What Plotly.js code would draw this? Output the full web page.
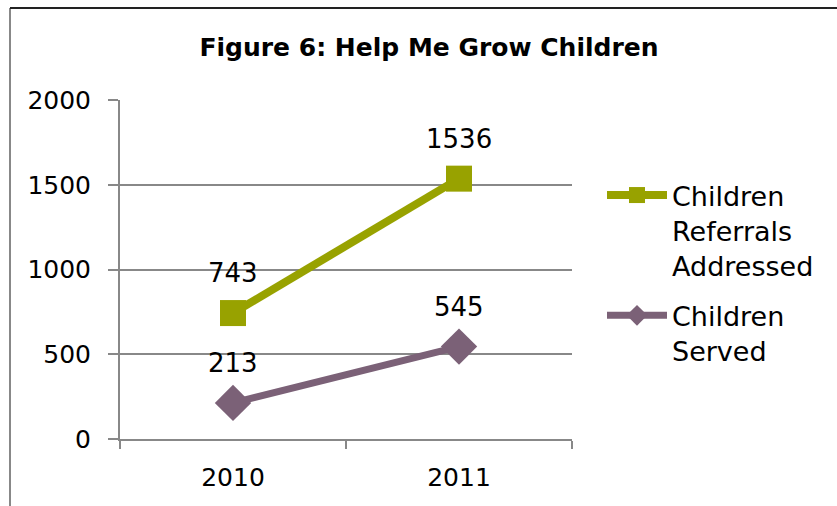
<!DOCTYPE html>
<html><head><meta charset="utf-8">
<script src="https://cdn.plot.ly/plotly-3.0.1.min.js"></script>
<style>html,body{margin:0;padding:0;background:#fff}#chart{width:837px;height:506px}</style>
</head><body><div id="chart"></div>
<script>
const years = ['2010', '2011'];
const referrals = [743, 1536];
const served = [213, 545];
const yTicks = [0, 500, 1000, 1500, 2000];

const FONT = 'DejaVu Sans, Liberation Sans, sans-serif';
const green = '#98A200';
const purple = '#7B6177';

const traces = [
  {
    x: years, y: referrals, name: 'Children<br>Referrals<br>Addressed', legendgroup: 'a',
    type: 'scatter', mode: 'lines+markers',
    line: {color: green, width: 8},
    marker: {symbol: 'square', size: 26, color: green}
  },
  {
    x: years, y: served, name: 'Children<br>Served', legendgroup: 'b',
    type: 'scatter', mode: 'lines+markers',
    line: {color: purple, width: 7},
    marker: {symbol: 'diamond', size: 28, color: purple}
  }
];

const labelFont = {family: FONT, size: 26, color: '#000'};
const annotations = [];
[referrals, served].forEach(series => {
  series.forEach((v, i) => {
    annotations.push({x: i, y: v, xref: 'x', yref: 'y', text: String(v), showarrow: false,
      yanchor: 'bottom', yshift: 23, font: labelFont});
  });
});

const L = 120, R = 572, T = 100, B = 439, W = 837, H = 506;
const px = v => (v - L) / (R - L);
const py = v => (B - v) / (B - T);

const layout = {
  width: W, height: H,
  margin: {l: L, r: W - R, t: T, b: H - B, pad: 0},
  paper_bgcolor: '#fff', plot_bgcolor: '#fff',
  font: {family: FONT, color: '#000', size: 24},
  title: {text: '<b>Figure 6: Help Me Grow Children</b>', x: 429 / W, xanchor: 'center', y: 1 - 47 / H, yanchor: 'middle',
          font: {family: FONT, size: 25, color: '#000'}},
  showlegend: true,
  legend: {x: px(602), xanchor: 'left', y: py(171), yanchor: 'top', bgcolor: 'rgba(0,0,0,0)', valign: 'top',
           font: {family: FONT, size: 27, color: '#000'}, itemwidth: 60, tracegroupgap: 12},
  annotations: annotations,
  xaxis: {
    type: 'category', range: [-0.5, 1.5], tickson: 'boundaries',
    showgrid: false, showline: true, linecolor: '#888', linewidth: 2,
    ticks: 'outside', ticklen: 8, tickwidth: 2, tickcolor: '#888',
    tickfont: {family: FONT, size: 25, color: '#000'}, ticklabelstandoff: 15,
    fixedrange: true
  },
  yaxis: {
    range: [0, 2000], tickvals: yTicks, ticktext: yTicks.map(String),
    showgrid: true, gridcolor: '#888', gridwidth: 2, zeroline: false,
    showline: true, linecolor: '#888', linewidth: 2,
    ticks: 'outside', ticklen: 10, tickwidth: 2, tickcolor: '#888',
    tickfont: {family: FONT, size: 25, color: '#000'}, ticklabelstandoff: 12,
    fixedrange: true
  },
  shapes: [
    {type: 'line', xref: 'paper', yref: 'paper', x0: px(10), x1: px(10), y0: py(8), y1: py(506), line: {color: '#888', width: 2}},
    {type: 'line', xref: 'paper', yref: 'paper', x0: px(10), x1: px(837), y0: py(8), y1: py(8), line: {color: '#222', width: 2}}
  ]
};

Plotly.newPlot('chart', traces, layout, {displayModeBar: false, staticPlot: true});
</script></body></html>
